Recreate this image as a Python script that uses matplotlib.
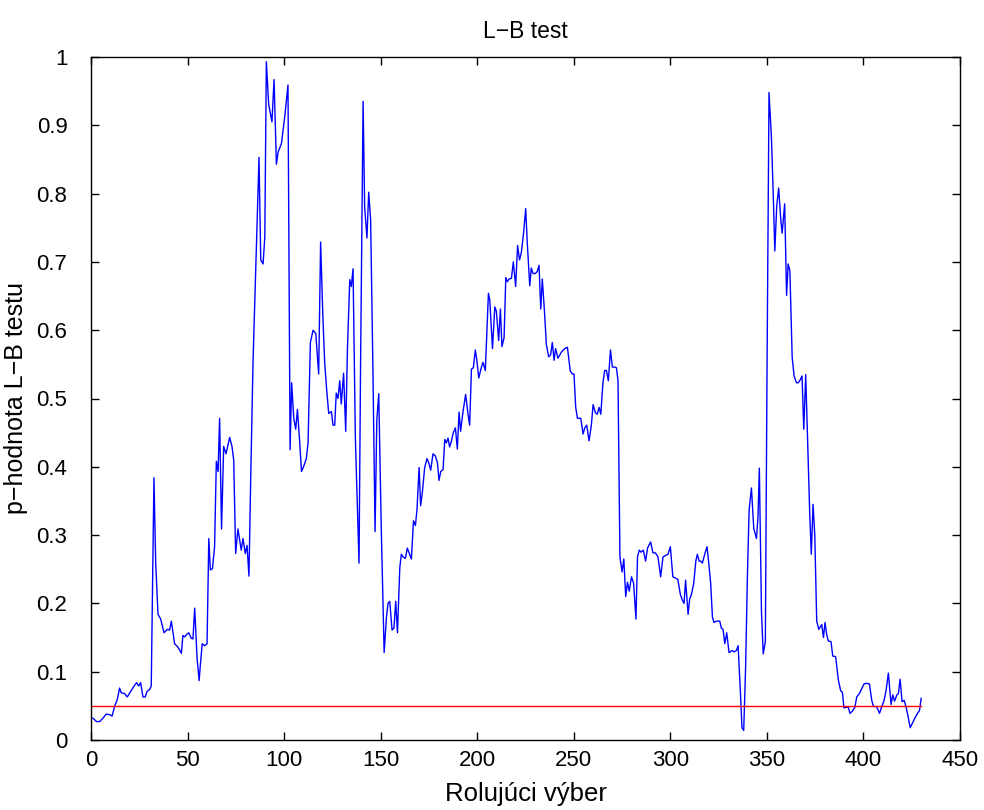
import matplotlib
matplotlib.use('Agg')
import matplotlib.pyplot as plt

# ============================================================
# L-B test: rolling-window p-values
# ============================================================

idx = [1.0, 2.8, 4.5, 6.2, 7.9, 9.7, 10.9, 12.3, 13.6, 14.8, 15.7, 17.4, 18.8, 20.5,
       22.3, 23.6, 24.7, 25.7, 26.9, 28.1, 29.0, 30.4, 31.2, 32.6, 33.5, 34.7, 36.1,
       37.8, 39.5, 40.7, 41.6, 43.3, 45.0, 46.8, 47.6, 48.5, 49.4, 50.6, 51.9, 52.8,
       53.7, 54.9, 56.0, 56.6, 57.6, 58.9, 60.1, 61.0, 61.8, 62.9, 64.0, 64.9, 65.8,
       66.6, 67.6, 68.7, 69.9, 71.8, 73.0, 73.9, 74.9, 76.1, 77.8, 78.7, 79.9, 80.8,
       81.8, 82.7, 83.9, 85.1, 87.0, 87.9, 89.1, 90.0, 90.8, 92.0, 93.7, 94.8, 96.0,
       96.9, 98.6, 100.3, 102.0, 103.1, 103.9, 105.0, 106.0, 106.9, 108.1, 109.0,
       110.3, 111.5, 112.4, 113.6, 115.0, 116.4, 117.9, 118.9, 120.1, 121.0, 122.0,
       123.1, 124.5, 125.3, 126.2, 127.0, 127.9, 128.8, 129.6, 130.8, 131.9, 132.8,
       134.0, 134.8, 135.7, 136.9, 138.8, 139.6, 140.9, 141.7, 142.9, 143.8, 144.8,
       146.0, 147.1, 148.0, 149.0, 150.3, 151.8, 153.0, 153.8, 154.7, 155.9, 156.9,
       157.8, 158.7, 159.9, 160.7, 161.6, 162.8, 163.8, 165.0, 165.9, 167.0, 168.0,
       168.8, 169.9, 170.7, 171.6, 172.8, 174.0, 174.9, 175.9, 177.1, 178.3, 179.4,
       180.2, 181.1, 182.3, 183.2, 184.0, 184.9, 185.7, 186.6, 187.6, 188.7, 189.7,
       190.6, 191.4, 192.6, 194.0, 195.2, 196.1, 197.0, 198.0, 199.0, 199.8, 200.8,
       201.9, 203.0, 204.2, 205.8, 206.5, 207.9, 209.1, 209.9, 211.1, 212.0, 212.8,
       213.9, 214.8, 215.6, 216.5, 217.7, 218.7, 219.9, 220.9, 221.9, 222.8, 224.0,
       225.1, 225.9, 227.2, 228.0, 228.9, 230.1, 231.1, 232.0, 232.9, 233.7, 234.9,
       235.8, 237.0, 238.0, 238.9, 239.8, 240.6, 241.8, 243.6, 245.3, 246.7, 248.2,
       249.3, 250.1, 251.0, 251.9, 253.6, 254.8, 255.7, 256.7, 257.9, 259.1, 260.0,
       261.2, 262.2, 263.1, 264.0, 265.1, 266.0, 266.9, 267.9, 269.0, 270.0, 271.2,
       272.1, 272.9, 273.9, 275.0, 275.9, 276.9, 277.8, 278.7, 279.9, 281.0, 282.2,
       283.0, 283.9, 284.8, 286.0, 287.2, 288.2, 289.8, 291.0, 292.3, 293.6, 295.0,
       296.2, 297.4, 298.8, 300.0, 301.3, 302.7, 303.9, 305.2, 306.2, 307.1, 307.9,
       309.2, 310.0, 310.9, 312.1, 313.2, 314.0, 314.9, 315.7, 316.6, 317.8, 319.0,
       319.9, 320.9, 321.8, 322.6, 323.8, 325.6, 326.4, 327.3, 328.2, 329.2, 330.4,
       332.0, 333.0, 334.2, 335.1, 336.3, 337.1, 338.0, 339.0, 339.9, 340.8, 342.0,
       343.2, 344.6, 345.4, 346.1, 347.2, 348.1, 349.2, 350.1, 351.1, 352.4, 353.4,
       354.1, 355.1, 356.1, 357.2, 357.9, 359.2, 360.2, 361.0, 361.9, 363.1, 364.1,
       365.3, 366.2, 367.0, 368.2, 369.1, 370.1, 372.2, 373.0, 373.9, 374.8, 375.8,
       376.9, 378.4, 379.3, 380.1, 381.0, 381.8, 383.2, 384.1, 385.6, 387.0, 388.2,
       389.1, 389.9, 391.3, 392.2, 393.0, 394.2, 395.6, 396.5, 397.9, 399.1, 400.3,
       401.7, 403.1, 404.3, 405.2, 406.6, 407.3, 408.3, 409.5, 410.7, 411.7, 412.9,
       413.8, 414.3, 415.2, 416.1, 417.3, 418.1, 419.0, 420.0, 421.1, 422.1, 423.0,
       424.2, 425.4, 426.8, 428.0, 429.0, 429.9]

pval = [0.032, 0.027, 0.027, 0.032, 0.038, 0.037, 0.035, 0.050, 0.059, 0.076, 0.069,
        0.068, 0.063, 0.071, 0.079, 0.084, 0.079, 0.084, 0.063, 0.063, 0.071, 0.074,
        0.079, 0.384, 0.259, 0.184, 0.177, 0.157, 0.162, 0.161, 0.174, 0.141, 0.136,
        0.127, 0.153, 0.151, 0.154, 0.157, 0.149, 0.148, 0.193, 0.121, 0.087, 0.109,
        0.141, 0.138, 0.141, 0.295, 0.249, 0.251, 0.283, 0.408, 0.393, 0.471, 0.309,
        0.430, 0.419, 0.443, 0.430, 0.410, 0.273, 0.309, 0.278, 0.295, 0.273, 0.285,
        0.240, 0.383, 0.553, 0.670, 0.853, 0.703, 0.697, 0.736, 0.993, 0.931, 0.905,
        0.967, 0.843, 0.861, 0.873, 0.912, 0.959, 0.425, 0.523, 0.471, 0.455, 0.484,
        0.435, 0.393, 0.402, 0.412, 0.435, 0.582, 0.600, 0.595, 0.536, 0.729, 0.618,
        0.553, 0.514, 0.478, 0.481, 0.461, 0.461, 0.508, 0.500, 0.526, 0.492, 0.537,
        0.452, 0.573, 0.674, 0.664, 0.690, 0.442, 0.259, 0.553, 0.935, 0.781, 0.735,
        0.802, 0.762, 0.540, 0.305, 0.468, 0.507, 0.311, 0.128, 0.180, 0.200, 0.203,
        0.161, 0.164, 0.203, 0.157, 0.252, 0.272, 0.268, 0.266, 0.281, 0.272, 0.265,
        0.321, 0.314, 0.337, 0.399, 0.343, 0.363, 0.399, 0.412, 0.406, 0.395, 0.419,
        0.416, 0.406, 0.380, 0.393, 0.396, 0.440, 0.435, 0.442, 0.429, 0.437, 0.450,
        0.457, 0.426, 0.480, 0.452, 0.480, 0.506, 0.478, 0.461, 0.543, 0.545, 0.571,
        0.556, 0.530, 0.543, 0.553, 0.541, 0.654, 0.644, 0.573, 0.634, 0.628, 0.585,
        0.631, 0.576, 0.589, 0.677, 0.671, 0.675, 0.676, 0.700, 0.664, 0.724, 0.703,
        0.713, 0.742, 0.778, 0.729, 0.665, 0.691, 0.683, 0.683, 0.686, 0.695, 0.631,
        0.675, 0.624, 0.579, 0.561, 0.564, 0.582, 0.556, 0.573, 0.559, 0.568, 0.573,
        0.575, 0.540, 0.536, 0.536, 0.487, 0.471, 0.471, 0.448, 0.457, 0.461, 0.438,
        0.461, 0.491, 0.479, 0.477, 0.487, 0.477, 0.523, 0.541, 0.541, 0.526, 0.571,
        0.546, 0.546, 0.545, 0.526, 0.268, 0.246, 0.265, 0.210, 0.231, 0.218, 0.239,
        0.229, 0.177, 0.268, 0.278, 0.275, 0.278, 0.262, 0.281, 0.290, 0.274, 0.274,
        0.268, 0.239, 0.268, 0.270, 0.272, 0.283, 0.239, 0.237, 0.235, 0.213, 0.205,
        0.200, 0.234, 0.184, 0.206, 0.213, 0.229, 0.262, 0.272, 0.262, 0.262, 0.259,
        0.272, 0.283, 0.259, 0.229, 0.180, 0.172, 0.174, 0.174, 0.164, 0.162, 0.141,
        0.157, 0.128, 0.131, 0.129, 0.131, 0.138, 0.069, 0.018, 0.014, 0.108, 0.239,
        0.337, 0.369, 0.310, 0.295, 0.327, 0.398, 0.187, 0.126, 0.144, 0.553, 0.948,
        0.879, 0.788, 0.716, 0.782, 0.808, 0.762, 0.742, 0.785, 0.651, 0.697, 0.687,
        0.560, 0.533, 0.523, 0.523, 0.526, 0.533, 0.455, 0.535, 0.330, 0.272, 0.345,
        0.300, 0.174, 0.162, 0.169, 0.150, 0.172, 0.154, 0.145, 0.144, 0.123, 0.122,
        0.088, 0.072, 0.070, 0.047, 0.048, 0.048, 0.039, 0.042, 0.048, 0.063, 0.068,
        0.075, 0.082, 0.083, 0.082, 0.058, 0.049, 0.049, 0.046, 0.039, 0.049, 0.058,
        0.072, 0.098, 0.068, 0.052, 0.066, 0.057, 0.066, 0.068, 0.089, 0.056, 0.058,
        0.048, 0.036, 0.018, 0.025, 0.033, 0.039, 0.043, 0.061]

alpha_x = [0, 430]
alpha_level = [0.05, 0.05]

xticks = [0, 50, 100, 150, 200, 250, 300, 350, 400, 450]
yticks = [0, 0.1, 0.2, 0.3, 0.4, 0.5, 0.6, 0.7, 0.8, 0.9, 1]
ytick_labels = ['0', '0.1', '0.2', '0.3', '0.4', '0.5', '0.6', '0.7', '0.8', '0.9', '1']

plt.rcParams['font.family'] = ['Liberation Sans', 'DejaVu Sans']

fig = plt.figure(figsize=(9.84, 8.10), dpi=100)
ax = fig.add_axes([91/984, 1 - 740/810, (960 - 91)/984, (740 - 57)/810])

ax.plot(idx, pval, color='#0000ff', linewidth=1.0)
ax.plot(alpha_x, alpha_level, color='#ff0000', linewidth=1.0)

ax.set_xlim(0, 450)
ax.set_ylim(0, 1)
ax.set_xticks(xticks)
ax.set_xticklabels([str(t) for t in xticks])
ax.set_yticks(yticks)
ax.set_yticklabels(ytick_labels)

ax.tick_params(direction='in', top=True, right=True, length=6, width=1,
               labelsize=16)
ax.tick_params(axis='x', pad=7)
ax.tick_params(axis='y', pad=17)
for s in ax.spines.values():
    s.set_linewidth(1.0)

ax.set_title('L\u2212B test', fontsize=16.5, pad=14)
ax.set_xlabel('Rolujúci výber', fontsize=18.5, labelpad=8)
ax.set_ylabel('p\u2212hodnota L\u2212B testu', fontsize=18, labelpad=6)

fig.savefig('out.png', dpi=100)
